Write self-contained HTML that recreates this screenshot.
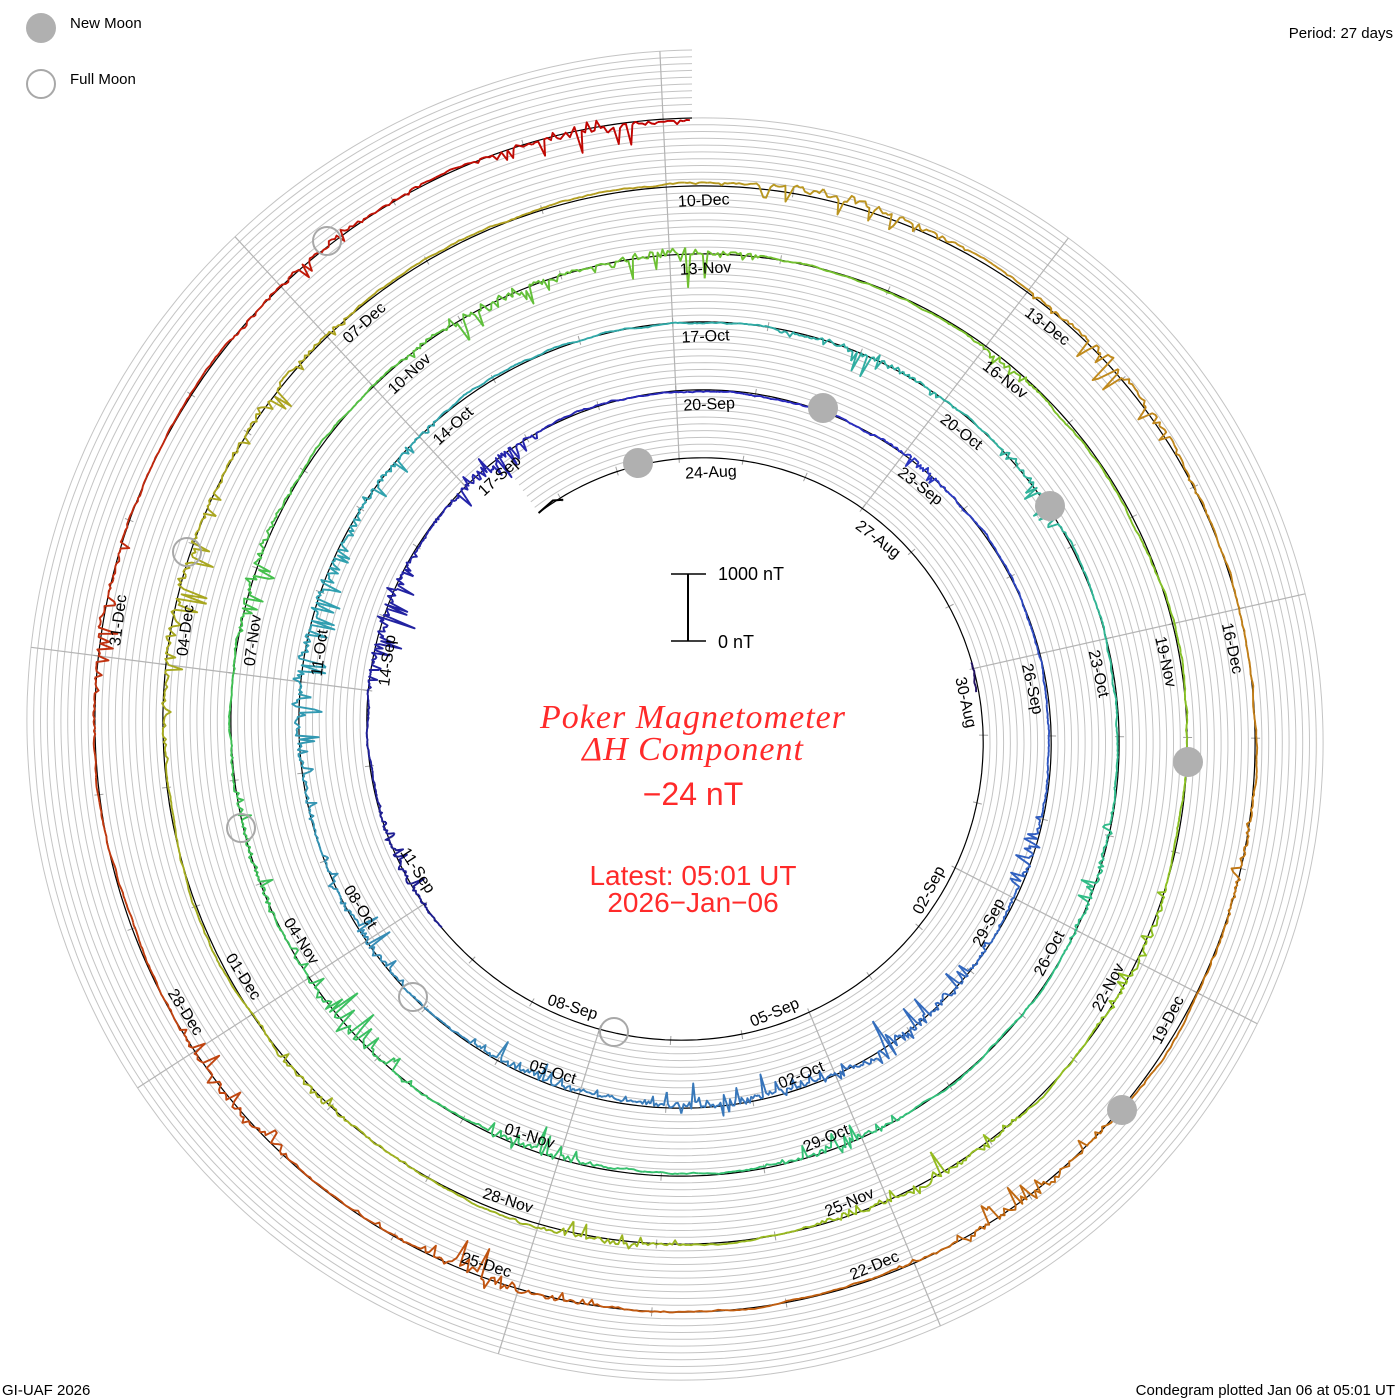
<!DOCTYPE html>
<html><head><meta charset="utf-8">
<style>
html,body{margin:0;padding:0;background:#fff;}
svg{display:block;}
text{font-family:"Liberation Sans","DejaVu Sans",sans-serif;}
</style></head>
<body>
<svg id="s" width="1400" height="1400" viewBox="0 0 1400 1400" xmlns="http://www.w3.org/2000/svg">
<rect width="1400" height="1400" fill="#fff"/>
<g id="grid"></g>
<g id="data"></g>
<g id="labels" font-size="16" fill="#000"></g>
<g id="moons">
<circle cx="638" cy="463" r="15" fill="#b0b0b0"/>
<circle cx="823" cy="408" r="15" fill="#b0b0b0"/>
<circle cx="1050" cy="506" r="15" fill="#b0b0b0"/>
<circle cx="1188" cy="762" r="15" fill="#b0b0b0"/>
<circle cx="1122" cy="1110" r="15" fill="#b0b0b0"/>
<circle cx="614" cy="1032" r="14" fill="none" stroke="#a8a8a8" stroke-width="2"/>
<circle cx="413" cy="997" r="14" fill="none" stroke="#a8a8a8" stroke-width="2"/>
<circle cx="241" cy="828" r="14" fill="none" stroke="#a8a8a8" stroke-width="2"/>
<circle cx="187" cy="552" r="14" fill="none" stroke="#a8a8a8" stroke-width="2"/>
<circle cx="327" cy="241" r="14" fill="none" stroke="#a8a8a8" stroke-width="2"/>
</g>
<circle cx="41" cy="28" r="15" fill="#b0b0b0"/>
<text x="70" y="28" font-size="15">New Moon</text>
<circle cx="41" cy="84" r="14" fill="none" stroke="#a8a8a8" stroke-width="2"/>
<text x="70" y="84" font-size="15">Full Moon</text>
<text x="1393" y="38" font-size="15" text-anchor="end">Period: 27 days</text>
<text x="2" y="1395" font-size="15">GI-UAF 2026</text>
<text x="1395" y="1395" font-size="15" text-anchor="end">Condegram plotted Jan 06 at 05:01 UT</text>
<line x1="688" y1="574" x2="688" y2="641" stroke="#000" stroke-width="2"/>
<line x1="671" y1="574" x2="706" y2="574" stroke="#000" stroke-width="1.5"/>
<line x1="671" y1="641" x2="706" y2="641" stroke="#000" stroke-width="1.5"/>
<text x="718" y="580" font-size="18">1000 nT</text>
<text x="718" y="648" font-size="18">0 nT</text>
<g fill="#ff2a2a" text-anchor="middle">
<text x="693" y="728" font-size="34" font-style="italic" style="font-family:'Liberation Serif',serif;letter-spacing:1px">Poker Magnetometer</text>
<text x="693" y="760" font-size="34" font-style="italic" style="font-family:'Liberation Serif',serif;letter-spacing:1px">ΔH Component</text>
<text x="693" y="805" font-size="32">−24 nT</text>
<text x="693" y="885" font-size="28">Latest: 05:01 UT</text>
<text x="693" y="912" font-size="28">2026−Jan−06</text>
</g>
</svg>
<script>
(function(){
var NS="http://www.w3.org/2000/svg";
var cx=692,cy=732,T0=-35,T1=1800;
function R(t){return 274+68*t/360;}
function P(t,r){var a=t*Math.PI/180;return [cx+r*Math.sin(a),cy-r*Math.cos(a)];}
function el(tag,attrs,parent){var e=document.createElementNS(NS,tag);for(var k in attrs)e.setAttribute(k,attrs[k]);parent.appendChild(e);return e;}
var grid=document.getElementById('grid'),data=document.getElementById('data'),lab=document.getElementById('labels');
function spiral(off,t0,t1){var s="";for(var t=t0;t<=t1;t+=1){var p=P(t,R(t)+off);s+=(s?"L":"M")+p[0].toFixed(1)+" "+p[1].toFixed(1);}return s;}
for(var k=1;k<=10;k++){el('path',{d:spiral(6.8*k,T0,T1),fill:'none',stroke:'#c4c4c4','stroke-width':1},grid);}
for(var j=0;j<9;j++){
  var phi=-2.7+40*j;
  var tf=phi; while(tf<T0)tf+=360; while(tf-360>=T0)tf-=360;
  var tl=tf; while(tl+360<=T1)tl+=360;
  var a=P(tf,R(tf)),b=P(tl,R(tl)+68);
  el('line',{x1:a[0],y1:a[1],x2:b[0],y2:b[1],stroke:'#b4b4b4','stroke-width':1.2},grid);
}
for(var d=-2;d<=136;d++){var t=-2.7+d*40/3;if(t<T0||t>T1)continue;var a=P(t,R(t)-4),b=P(t,R(t)+5);
 el('line',{x1:a[0],y1:a[1],x2:b[0],y2:b[1],stroke:'#a0a0a0','stroke-width':1},grid);}
el('path',{d:spiral(0,T0,T1),fill:'none',stroke:'#000','stroke-width':1.2},grid);
var mon=["Jan","Feb","Mar","Apr","May","Jun","Jul","Aug","Sep","Oct","Nov","Dec"];
for(var k=0;;k++){
  var t=-2.7+40*k; if(t>1750)break;
  var dt=new Date(Date.UTC(2025,7,24+3*k));
  var txt=("0"+dt.getUTCDate()).slice(-2)+"-"+mon[dt.getUTCMonth()];
  var tm=((t%360)+360)%360;
  var flip=(tm>90&&tm<270);
  var r=R(t)-(flip?8:20);
  var p=P(t+1.2,r);
  var rot=flip?tm-180:tm;
  var e=el('text',{x:p[0].toFixed(1),y:p[1].toFixed(1),'text-anchor':flip?'end':'start',transform:'rotate('+rot.toFixed(1)+' '+p[0].toFixed(1)+' '+p[1].toFixed(1)+')'},lab);
  e.textContent=txt;
}
var seed=12345;function rnd(){seed|=0;seed=seed+0x6D2B79F5|0;var x=Math.imul(seed^seed>>>15,1|seed);x=x+Math.imul(x^x>>>7,61|x)^x;return((x^x>>>14)>>>0)/4294967296;}
var storms=[[245,10,20],[290,12,40],[322,10,45],[400,8,15],[470,10,20],[505,20,40],[535,15,35],[565,12,30],[600,12,30],[640,25,35],[670,10,20],[745,12,25],[775,10,20],[830,10,20],[880,10,20],[920,10,30],[950,12,35],[975,10,25],[1010,10,30],[1055,12,40],[1078,10,40],[1120,8,15],[1195,10,20],[1232,12,30],[1270,10,20],[1305,10,20],[1365,15,35],[1390,10,25],[1455,12,30],[1490,12,30],[1545,8,15],[1585,12,30],[1640,12,35],[1672,10,25],[1722,10,20],[1762,10,20],[1790,10,30]];
var stops=[[-35,[0,0,0]],[230,[28,28,140]],[380,[42,42,192]],[470,[48,96,192]],[560,[58,128,184]],[650,[48,160,176]],[760,[48,176,160]],[850,[48,192,128]],[1000,[64,192,80]],[1080,[112,192,48]],[1200,[144,192,32]],[1300,[160,176,32]],[1420,[176,160,32]],[1470,[192,144,32]],[1560,[192,112,16]],[1650,[192,80,16]],[1720,[192,48,16]],[1800,[192,0,0]]];
function col(t){for(var i=0;i<stops.length-1;i++){if(t<=stops[i+1][0]){var f=(t-stops[i][0])/(stops[i+1][0]-stops[i][0]);var a=stops[i][1],b=stops[i+1][1];return 'rgb('+[0,1,2].map(function(c){return Math.round(a[c]+(b[c]-a[c])*f);}).join(',')+')';}}return 'rgb(192,0,0)';}
function segs(t0,t1,colorFn){
  var walk=0,pts=[],step=0.3;
  for(var t=t0;t<=t1;t+=step){
    walk+=(rnd()-0.5)*1.1; walk*=0.98;
    var d=walk;
    for(var i=0;i<storms.length;i++){var s=storms[i];var x=(t-s[0])/s[1];if(Math.abs(x)<1.5){var env=Math.exp(-x*x*2);
       if(rnd()<0.22)d+=env*s[2]*(rnd()*1.3-0.35);else d+=env*s[2]*(rnd()-0.5)*0.25;}}
    var p=P(t,R(t)-d);pts.push([t,p]);
  }
  var chunk=8;
  for(var i=0;i<pts.length-1;i+=chunk){
    var s="";for(var j=i;j<=Math.min(i+chunk,pts.length-1);j++){s+=(s?"L":"M")+pts[j][1][0].toFixed(1)+" "+pts[j][1][1].toFixed(1);}
    el('path',{d:s,fill:'none',stroke:colorFn(pts[i][0]),'stroke-width':1.9,'stroke-linejoin':'round'},data);
  }
}
var q=P(-35,R(-35)),q2=P(-31,R(-31)+2),q3=P(-29,R(-29)-3);
el('path',{d:'M'+q[0]+' '+q[1]+'L'+q2[0]+' '+q2[1]+'L'+q3[0]+' '+q3[1],fill:'none',stroke:'#000','stroke-width':2},data);
segs(76,82,function(){return '#201060';});
segs(232,T1,col);
})();
</script>
</body></html>
